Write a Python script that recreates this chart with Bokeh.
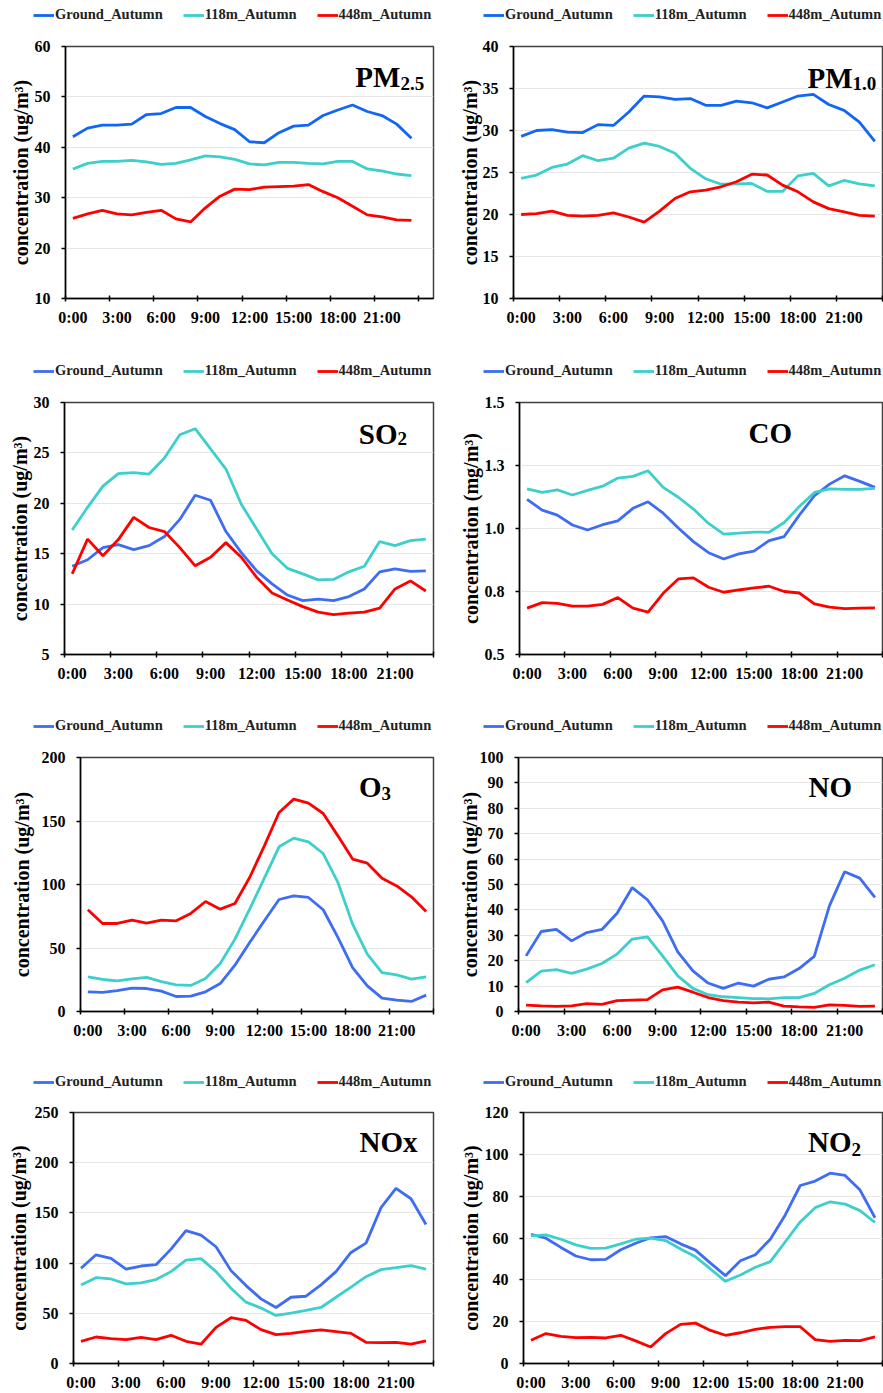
from bokeh.plotting import figure
from bokeh.models import (FixedTicker, Legend, LegendItem, Label, Range1d,
                          CustomJSTickFormatter, NumeralTickFormatter)
from bokeh.layouts import column, row
from bokeh.embed import file_html
from bokeh.resources import INLINE

# ---------------- data ----------------
hours = list(range(24))
x_label_hours = [0, 3, 6, 9, 12, 15, 18, 21]
x_tick_hours = [0, 3, 6, 9, 12, 15, 18, 21, 24]
series_names = ["Ground_Autumn", "118m_Autumn", "448m_Autumn"]

pm25_ground = [42.1, 43.8, 44.4, 44.4, 44.6, 46.5, 46.7, 47.9, 47.9, 46.1, 44.7, 43.5,
               41.1, 40.9, 42.9, 44.2, 44.4, 46.3, 47.4, 48.4, 47.1, 46.3, 44.6, 41.8]
pm25_118m = [35.7, 36.8, 37.2, 37.2, 37.4, 37.1, 36.6, 36.8, 37.5, 38.3, 38.1, 37.6,
             36.7, 36.5, 37.0, 37.0, 36.8, 36.7, 37.2, 37.2, 35.7, 35.3, 34.7, 34.4]
pm25_448m = [25.9, 26.8, 27.5, 26.8, 26.6, 27.1, 27.5, 25.8, 25.2, 28.0, 30.3, 31.7,
             31.6, 32.1, 32.2, 32.3, 32.6, 31.2, 30.0, 28.3, 26.6, 26.2, 25.6, 25.5]

pm10_ground = [29.3, 30.0, 30.1, 29.8, 29.75, 30.7, 30.6, 32.2, 34.1, 34.0, 33.7, 33.8,
               33.0, 33.0, 33.5, 33.3, 32.7, 33.4, 34.1, 34.3, 33.1, 32.4, 31.0, 28.7]
pm10_118m = [24.3, 24.7, 25.6, 26.0, 27.0, 26.4, 26.7, 27.9, 28.5, 28.1, 27.3, 25.5,
             24.25, 23.6, 23.65, 23.7, 22.75, 22.75, 24.6, 24.9, 23.4, 24.05, 23.65, 23.4]
pm10_448m = [20.0, 20.1, 20.4, 19.9, 19.8, 19.9, 20.2, 19.7, 19.1, 20.4, 21.9, 22.7,
             22.9, 23.3, 23.9, 24.8, 24.7, 23.5, 22.7, 21.5, 20.7, 20.3, 19.9, 19.8]

so2_ground = [13.75, 14.4, 15.6, 15.9, 15.4, 15.8, 16.7, 18.4, 20.8, 20.3, 17.2, 15.1,
              13.3, 12.0, 10.9, 10.35, 10.5, 10.35, 10.75, 11.5, 13.2, 13.5, 13.25, 13.3]
so2_118m = [17.35, 19.6, 21.7, 22.95, 23.05, 22.9, 24.5, 26.8, 27.4, 25.4, 23.4, 19.9,
            17.45, 15.0, 13.55, 13.0, 12.4, 12.45, 13.2, 13.75, 16.2, 15.8, 16.3, 16.45]
so2_448m = [13.0, 16.45, 14.8, 16.4, 18.6, 17.6, 17.2, 15.6, 13.8, 14.65, 16.1, 14.65,
            12.65, 11.1, 10.4, 9.75, 9.2, 8.95, 9.1, 9.2, 9.6, 11.5, 12.3, 11.3]

co_ground = [1.116, 1.073, 1.053, 1.014, 0.994, 1.015, 1.030, 1.080, 1.106, 1.061, 1.002, 0.948,
             0.904, 0.879, 0.899, 0.910, 0.952, 0.968, 1.053, 1.130, 1.176, 1.209, 1.187, 1.163]
co_118m = [1.157, 1.143, 1.153, 1.133, 1.151, 1.168, 1.200, 1.207, 1.229, 1.163, 1.124, 1.077,
           1.020, 0.978, 0.982, 0.986, 0.985, 1.024, 1.087, 1.143, 1.157, 1.155, 1.155, 1.159]
co_448m = [0.684, 0.706, 0.703, 0.692, 0.692, 0.699, 0.726, 0.684, 0.668, 0.743, 0.800, 0.804,
           0.767, 0.747, 0.756, 0.764, 0.771, 0.750, 0.744, 0.701, 0.688, 0.682, 0.684, 0.685]

o3_ground = [15.5, 15.0, 16.5, 18.4, 18.1, 16.0, 11.8, 12.1, 15.5, 22.0, 36.5, 54.3,
             71.4, 88.2, 91.1, 89.8, 80.1, 58.3, 34.6, 20.2, 10.5, 8.9, 7.9, 12.9]
o3_118m = [27.3, 25.2, 24.1, 25.7, 26.8, 23.6, 21.0, 20.5, 26.0, 37.8, 57.0, 80.6,
           105.0, 129.7, 136.5, 133.6, 124.4, 101.6, 68.8, 45.1, 30.7, 28.9, 25.5, 27.3]
o3_448m = [80.1, 69.3, 69.3, 71.9, 69.6, 71.9, 71.4, 77.2, 86.6, 80.6, 85.0, 105.5,
           130.4, 156.7, 167.2, 164.0, 155.9, 138.3, 120.0, 116.8, 105.0, 98.9, 90.3, 78.7]

no_ground = [21.9, 31.5, 32.3, 27.8, 31.1, 32.3, 38.7, 48.8, 44.0, 35.7, 23.5, 16.0,
             11.2, 9.1, 11.2, 10.0, 12.7, 13.6, 16.9, 21.7, 41.6, 55.0, 52.5, 44.9]
no_118m = [11.4, 15.9, 16.5, 15.0, 16.7, 18.9, 22.6, 28.5, 29.4, 21.9, 14.0, 9.1,
           6.6, 5.8, 5.5, 5.1, 5.0, 5.5, 5.5, 7.1, 10.5, 13.1, 16.3, 18.4]
no_448m = [2.5, 2.2, 2.0, 2.2, 3.1, 2.8, 4.3, 4.5, 4.7, 8.5, 9.6, 7.6,
           5.5, 4.3, 3.7, 3.4, 3.7, 2.1, 1.8, 1.6, 2.6, 2.4, 2.0, 2.1]

nox_ground = [94.8, 108.3, 104.7, 94.1, 97.1, 98.4, 113.9, 132.4, 127.8, 116.3, 92.5, 77.6,
              64.4, 55.8, 66.0, 67.0, 78.3, 91.5, 110.6, 119.9, 155.2, 174.4, 164.1, 138.4]
nox_118m = [78.3, 85.5, 84.2, 79.3, 80.3, 83.6, 91.5, 103.0, 104.4, 91.5, 75.0, 61.1,
            55.2, 47.9, 50.2, 52.8, 55.8, 66.0, 76.0, 86.5, 93.5, 95.4, 97.4, 94.1]
nox_448m = [22.1, 26.4, 24.8, 23.8, 26.1, 23.8, 28.1, 22.1, 19.2, 36.0, 45.6, 42.9,
            33.7, 28.7, 30.0, 32.0, 33.4, 31.7, 30.0, 21.1, 20.8, 21.1, 19.2, 22.5]

no2_ground = [61.8, 59.9, 55.5, 51.4, 49.6, 49.8, 54.4, 57.5, 60.1, 60.7, 57.2, 54.2,
              48.0, 42.0, 49.1, 52.0, 59.4, 71.0, 85.1, 87.2, 91.0, 89.9, 82.9, 69.7]
no2_118m = [61.0, 61.5, 59.4, 56.7, 55.0, 55.2, 57.2, 59.4, 59.9, 58.8, 54.7, 51.0,
            45.2, 39.3, 42.3, 46.0, 48.7, 58.2, 67.7, 74.5, 77.3, 76.2, 73.1, 67.4]
no2_448m = [11.1, 14.3, 13.0, 12.4, 12.5, 12.2, 13.5, 10.8, 7.9, 14.3, 18.7, 19.3,
            15.8, 13.5, 14.7, 16.3, 17.3, 17.6, 17.6, 11.4, 10.6, 11.1, 10.9, 12.7]

# axis ranges (min, max, tick step)
pm25_axis = (10, 60, 10)
pm10_axis = (10, 40, 5)
so2_axis = (5, 30, 5)
co_axis = (0.5, 1.5, 0.25)
o3_axis = (0, 200, 50)
no_axis = (0, 100, 10)
nox_axis = (0, 250, 50)
no2_axis = (0, 120, 20)

# ---------------- styling ----------------
FONT = "Liberation Serif"
RED = "#FF0000"
CYAN = "#3CCFCB"
BLUE_A = "#0F66F7"
BLUE_B = "#3E6CF2"
UG = "concentration (ug/m\u00b3)"
MG = "concentration (mg/m\u00b3)"
LINE_W = 2.8

panels = [
    dict(main="PM", sub="2.5", data=(pm25_ground, pm25_118m, pm25_448m), axis=pm25_axis, ylab=UG,
         x_end=25, bl=65, br=8, leg_x=33, std=0, title=(22.75, 53.85, 6), blue=BLUE_A, fmt=None),
    dict(main="PM", sub="1.0", data=(pm10_ground, pm10_118m, pm10_448m), axis=pm10_axis, ylab=UG,
         x_end=24, bl=72, br=1, leg_x=42, std=-1, title=(22.05, 36.3, 6), blue=BLUE_A, fmt=None),
    dict(main="SO", sub="2", data=(so2_ground, so2_118m, so2_448m), axis=so2_axis, ylab=UG,
         x_end=24, bl=64, br=8, leg_x=33, std=0, title=(21.66, 26.9, 5), blue=BLUE_B, fmt=None),
    dict(main="CO", sub=None, data=(co_ground, co_118m, co_448m), axis=co_axis, ylab=MG,
         x_end=24, bl=78, br=1, leg_x=42, std=0, title=(15.14, 1.377, 0), blue=BLUE_B, fmt="0.0"),
    dict(main="O", sub="3", data=(o3_ground, o3_118m, o3_448m), axis=o3_axis, ylab=UG,
         x_end=24, bl=80, br=8, leg_x=33, std=6, title=(20.46, 176.4, 6), blue=BLUE_B, fmt=None),
    dict(main="NO", sub=None, data=(no_ground, no_118m, no_448m), axis=no_axis, ylab=UG,
         x_end=24, bl=77, br=1, leg_x=42, std=-4, title=(19.12, 88.2, 0), blue=BLUE_B, fmt=None),
    dict(main="NOx", sub=None, data=(nox_ground, nox_118m, nox_448m), axis=nox_axis, ylab=UG,
         x_end=24, bl=73, br=8, leg_x=33, std=2, title=(19.07, 220.4, 0), blue=BLUE_B, fmt=None),
    dict(main="NO", sub="2", data=(no2_ground, no2_118m, no2_448m), axis=no2_axis, ylab=UG,
         x_end=24, bl=82, br=1, leg_x=42, std=0, title=(21.93, 105.8, 7), blue=BLUE_B, fmt=None),
]

LEG_H = 32
row_heights = [355, 355, 355, 328]
legend_centres = [16, 17, 17, 18]
frame_tops = [46, 47, 47, 47]
frame_heights = [252, 252, 254, 253]


def make_legend_fig(spec, width, centre):
    # a strip above the chart that only carries the legend; its lines are the
    # real series, mapped onto a range that keeps them out of view
    lf = figure(width=width, height=LEG_H, x_range=Range1d(0, 1), y_range=Range1d(-2, -1),
                x_axis_type=None, y_axis_type=None, output_backend="svg",
                toolbar_location=None, min_border=0, frame_align=False)
    lf.outline_line_color = None
    lf.grid.visible = False
    colors = [spec["blue"], CYAN, RED]
    x = [h + 0.5 for h in hours]
    items = []
    for name, vals, col in zip(series_names, spec["data"], colors):
        r = lf.line(x, vals, line_width=LINE_W, line_color=col)
        items.append(LegendItem(label=name, renderers=[r]))
    legend = Legend(items=items, location=(spec["leg_x"], LEG_H - centre - 7),
                    orientation="horizontal", label_text_font=FONT,
                    label_text_font_style="bold", label_text_font_size="14.5px",
                    label_text_color="#222222",
                    glyph_width=21, glyph_height=14, label_height=14,
                    label_standoff=1, spacing=20, padding=0, margin=0,
                    background_fill_alpha=0, border_line_alpha=0)
    lf.add_layout(legend)
    return lf


def make_panel(spec, width, height, top, frame_h):
    lo, hi, step = spec["axis"]
    n_ticks = int(round((hi - lo) / step))
    yticks = [lo + k * step for k in range(n_ticks + 1)]
    bottom = height - top - frame_h
    p = figure(width=width, height=height, x_range=Range1d(0, spec["x_end"]),
               y_range=Range1d(lo, hi), output_backend="svg", toolbar_location=None,
               min_border_left=spec["bl"], min_border_right=spec["br"],
               min_border_top=top, min_border_bottom=bottom, frame_align=False)
    p.background_fill_color = "white"
    p.border_fill_color = "white"
    p.outline_line_color = "#404040"
    p.outline_line_width = 1.5

    # x axis: labels at category centres, tick marks between categories
    p.xaxis.ticker = FixedTicker(ticks=[h + 0.5 for h in x_label_hours],
                                 minor_ticks=x_tick_hours)
    p.xaxis.formatter = CustomJSTickFormatter(code="return Math.floor(tick) + ':00';")
    p.xaxis.major_tick_line_color = None
    p.xaxis.major_tick_in = 0
    p.xaxis.major_tick_out = 3
    p.xaxis.minor_tick_in = 3
    p.xaxis.minor_tick_out = 3
    p.xaxis.minor_tick_line_color = "black"
    p.xaxis.minor_tick_line_width = 1.5
    p.xaxis.major_label_standoff = 7
    p.xaxis.axis_line_color = "black"
    p.xaxis.axis_line_width = 1.5
    p.xgrid.visible = False

    p.yaxis.ticker = FixedTicker(ticks=yticks, minor_ticks=[])
    if spec["fmt"]:
        p.yaxis.formatter = NumeralTickFormatter(format=spec["fmt"])
    p.yaxis.major_tick_in = 0
    p.yaxis.major_tick_out = 4
    p.yaxis.major_tick_line_width = 1.5
    p.yaxis.major_tick_line_color = "black"
    p.yaxis.minor_tick_line_color = None
    p.yaxis.major_label_standoff = 11
    p.yaxis.axis_line_color = "black"
    p.yaxis.axis_line_width = 1.5
    p.yaxis.axis_label = spec["ylab"]
    p.yaxis.axis_label_standoff = spec["std"]
    p.yaxis.axis_label_text_font = FONT
    p.yaxis.axis_label_text_font_style = "bold"
    p.yaxis.axis_label_text_font_size = "20px"
    p.yaxis.axis_label_text_color = "black"
    p.ygrid.grid_line_color = "#e6e6e6"
    p.ygrid.grid_line_width = 1

    for ax in (p.xaxis, p.yaxis):
        ax.major_label_text_font = FONT
        ax.major_label_text_font_style = "bold"
        ax.major_label_text_font_size = "16px"
        ax.major_label_text_color = "black"

    x = [h + 0.5 for h in hours]
    colors = [spec["blue"], CYAN, RED]
    for vals, col in zip(spec["data"], colors):
        p.line(x, vals, line_width=LINE_W, line_color=col)

    tx, ty, off = spec["title"]
    p.add_layout(Label(x=tx, y=ty, text=spec["main"], text_font=FONT, text_font_style="bold",
                       text_font_size="29px", text_color="black",
                       text_align="right" if spec["sub"] else "left",
                       text_baseline="alphabetic"))
    if spec["sub"]:
        p.add_layout(Label(x=tx, y=ty, text=spec["sub"], text_font=FONT, text_font_style="bold",
                           text_font_size="19px", text_color="black", text_align="left",
                           text_baseline="alphabetic", y_offset=-off))
    return p


rows = []
for r in range(4):
    cells = []
    for c in range(2):
        spec = panels[r * 2 + c]
        w = 441 if c == 0 else 442
        lf = make_legend_fig(spec, w, legend_centres[r])
        p = make_panel(spec, w, row_heights[r] - LEG_H, frame_tops[r] - LEG_H, frame_heights[r])
        cells.append(column(lf, p, spacing=0))
    rows.append(row(*cells, spacing=0))

layout = column(*rows, spacing=0)

with open("out.html", "w") as f:
    f.write(file_html(layout, INLINE))
